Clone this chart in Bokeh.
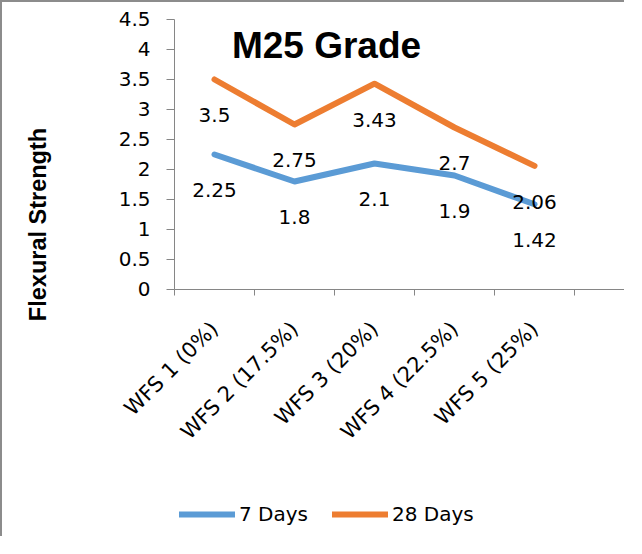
import math
from bokeh.plotting import figure
from bokeh.models import (Range1d, FixedTicker, Label, Legend, LegendItem)
from bokeh.core.properties import value
from bokeh.embed import file_html
from bokeh.resources import INLINE

categories = ["WFS 1 (0%)", "WFS 2 (17.5%)", "WFS 3 (20%)", "WFS 4 (22.5%)", "WFS 5 (25%)"]
days7 = [2.25, 1.8, 2.1, 1.9, 1.42]
days28 = [3.5, 2.75, 3.43, 2.7, 2.06]
y_ticks = [0, 0.5, 1, 1.5, 2, 2.5, 3, 3.5, 4, 4.5]
y_tick_labels = ["0", "0.5", "1", "1.5", "2", "2.5", "3", "3.5", "4", "4.5"]
series_names = ["7 Days", "28 Days"]
colors = ["#5B9BD5", "#ED7D31"]
y_title = "Flexural Strength"
chart_title = "M25 Grade"

xs = [i + 0.5 for i in range(len(categories))]
n_slots = 5.65  # visible category slots

FONT = "DejaVu Sans"
AXIS_GRAY = "#868686"

# the frame covers the whole canvas; axes are pinned at x=0 / y=0
p = figure(width=624, height=536, output_backend="svg", toolbar_location=None,
           x_range=Range1d(-2.15, n_slots), y_range=Range1d(-4.15, 4.7833),
           min_border_left=0, min_border_right=0, min_border_top=0,
           min_border_bottom=0)
p.styles = {"border-left": "2px solid #8c8c8c", "border-top": "2px solid #8c8c8c"}
p.grid.visible = False
p.outline_line_color = None
p.background_fill_color = "white"
p.border_fill_color = "white"

# y axis
ya = p.yaxis[0]
ya.fixed_location = 0
ya.bounds = (y_ticks[0], y_ticks[-1])
ya.ticker = FixedTicker(ticks=y_ticks, minor_ticks=[])
ya.major_label_overrides = {t: s for t, s in zip(y_ticks, y_tick_labels)}
ya.axis_line_color = AXIS_GRAY
ya.major_tick_line_color = AXIS_GRAY
ya.major_tick_in = 0
ya.major_tick_out = 8
ya.minor_tick_line_color = None
ya.major_label_standoff = 16
ya.major_label_text_font = FONT
ya.major_label_text_font_size = "20px"
ya.major_label_text_color = "black"

# x axis
xa = p.xaxis[0]
xa.fixed_location = 0
xa.bounds = (0, n_slots)
xa.ticker = FixedTicker(ticks=xs, minor_ticks=list(range(len(categories) + 1)))
xa.major_label_overrides = {x: c for x, c in zip(xs, categories)}
xa.axis_line_color = AXIS_GRAY
xa.major_tick_line_color = None
xa.major_tick_in = 0
xa.major_tick_out = 0
xa.minor_tick_line_color = AXIS_GRAY
xa.minor_tick_in = 0
xa.minor_tick_out = 6
xa.major_label_orientation = math.pi / 4
xa.major_label_standoff = 30
xa.major_label_text_font = FONT
xa.major_label_text_font_size = "21px"
xa.major_label_text_color = "black"

# lines
r7 = p.line(xs, days7, line_color=colors[0], line_width=6, line_cap="round", line_join="round")
r28 = p.line(xs, days28, line_color=colors[1], line_width=6, line_cap="round", line_join="round")

# data labels
for vals in (days28, days7):
    p.text(xs, vals, text=[str(v) for v in vals], y_offset=36,
           text_align="center", text_baseline="middle",
           text_font=value(FONT), text_font_size="20px", text_color="black")

# chart title
p.add_layout(Label(x=1.9, y=4.07, text=chart_title, text_align="center",
                   text_baseline="middle", text_font="Liberation Sans",
                   text_font_style="bold", text_font_size="37px", text_color="black"))

# y title
p.add_layout(Label(x=-1.7125, y=1.083, text=y_title, angle=math.pi / 2,
                   text_align="center", text_baseline="middle",
                   text_font="Liberation Sans", text_font_style="bold",
                   text_font_size="23.5px", text_color="black"))

legend = Legend(items=[LegendItem(label=series_names[0], renderers=[r7]),
                       LegendItem(label=series_names[1], renderers=[r28])],
                location=(177, 12), orientation="horizontal",
                glyph_width=56, glyph_height=20, label_standoff=4, spacing=24,
                padding=0, margin=0, border_line_color=None,
                background_fill_alpha=0,
                label_text_font=FONT, label_text_font_size="20px",
                label_text_color="black")
p.add_layout(legend)

open("out.html", "w").write(file_html(p, INLINE))
